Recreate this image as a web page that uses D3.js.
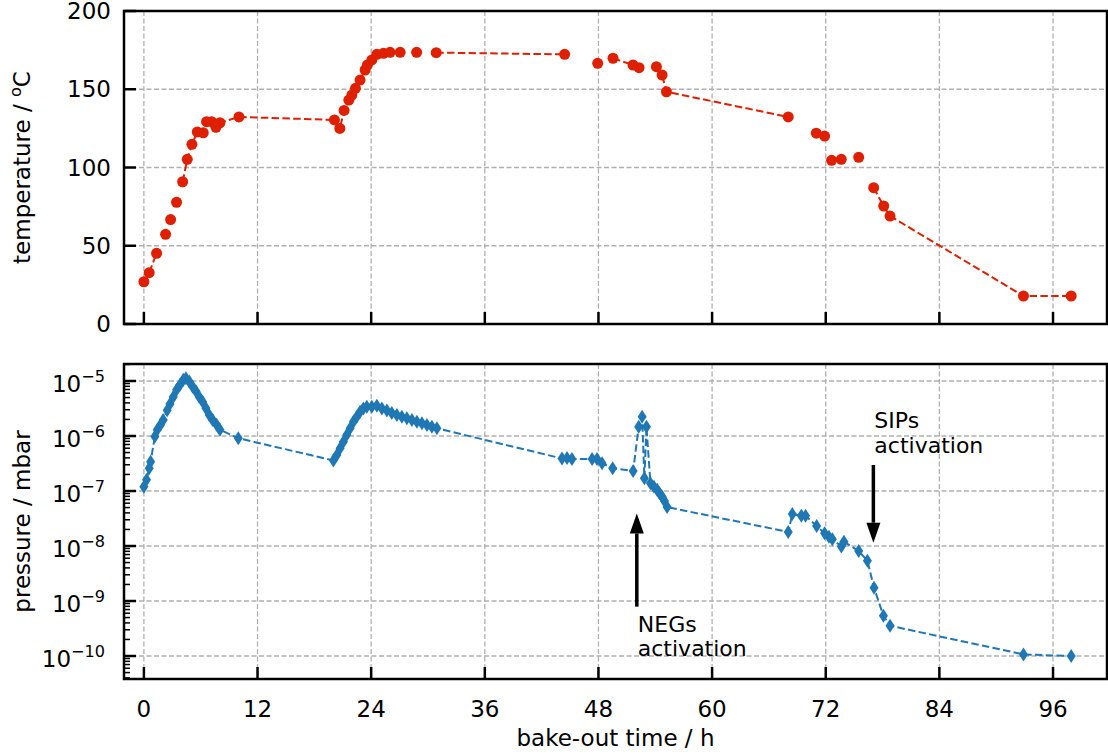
<!DOCTYPE html>
<html>
<head>
<meta charset="utf-8">
<script src="https://cdn.jsdelivr.net/npm/d3@7"></script>
<style>
  html, body { margin: 0; padding: 0; background: #fff; }
  text { font-family: "DejaVu Sans", sans-serif; fill: #000; }
</style>
</head>
<body>
<svg id="chart" width="1108" height="755"></svg>
<script>
// ---------------- data ----------------
// temperature readings (null = no reading -> gap in dashed line)
const tempTime  = [0, 0.56, 1.34, null, 2.29, null, 2.82, null, 3.45, null, 4.09, 4.58, 5.07, 5.64, 6.27, 6.62, 7.15, 7.61, 8.03, 10.04,
                   20.12, 20.69, 21.14, 21.64, 21.96, 22.34, 22.83, 23.36, 23.6, 24.07, 24.6, 25.3, 26.0, 27.06, null, 28.8, null,
                   30.87, 44.43, null, 47.92, null, 49.54, 51.65, 52.29, null, 54.12, 54.72, 55.18, 68.04, null, 71.0, 71.88, null,
                   72.62, 73.64, null, 75.48, null, 77.06, 78.12, 78.79, 92.88, 97.92];
const tempValue = [27, 32.8, 45.2, null, 57.3, null, 66.7, null, 77.8, null, 90.9, 105.2, 114.8, 122.7, 122.2, 129.3, 129.3, 125.7, 128.6, 132.3,
                   130.4, 125.0, 136.5, 143.1, 146.3, 150.6, 155.9, 162.3, 165.5, 168.7, 172.3, 173.0, 173.6, 173.6, null, 173.6, null,
                   173.4, 172.3, null, 166.6, null, 169.8, 165.5, 163.8, null, 164.4, 159.1, 148.4, 132.3, null, 121.9, 120.1, null,
                   104.6, 105.2, null, 106.5, null, 87.1, 75.4, 69.0, 17.9, 17.9];

// pressure readings (mbar)
const pressTime = [0, 0.28, 0.56, 0.71, 1.16, 1.41, 1.76, 2.04, 2.46, 2.75, 3.1, 3.45, 3.8, 4.16, 4.44, 4.79, 5.15, 5.5, 5.85, 6.2, 6.55, 6.9, 7.26, 7.68, 8.03, 9.97,
                   20.01, 20.37, 20.72, 21.07, 21.43, 21.78, 22.12, 22.48, 22.83, 23.18, 23.54, 24.07, 24.6, 25.13, 25.66, 26.18, 26.71, 27.24, 27.77, 28.3, 28.83, 29.36, 29.89, 30.41, 30.94,
                   44.15, 44.68, 45.2, 47.33, 47.85, 48.38, 49.5, 51.66, 52.25, 52.61, 52.85, 53.07, 53.49, 53.86, 54.2, 54.44, 54.73, 54.97, 55.25,
                   68.04, 68.47, 69.42, 69.87, 71.04, 71.88, 72.34, 72.7, 73.65, 73.92, 75.48, 76.4, 77.1, 78.09, 78.79, 92.88, 97.92];
const pressValue = [1.2e-7, 1.6e-7, 2.6e-7, 3.4e-7, 9.8e-7, 1.3e-6, 1.6e-6, 1.95e-6, 2.95e-6, 3.8e-6, 5.1e-6, 6.9e-6, 8.5e-6, 1.05e-5, 1.12e-5, 9.8e-6, 7.9e-6, 6.5e-6, 5.1e-6, 4.2e-6, 3.2e-6, 2.4e-6, 1.95e-6, 1.6e-6, 1.3e-6, 9.1e-7,
                   3.6e-7, 4.5e-7, 6.0e-7, 7.9e-7, 1.05e-6, 1.38e-6, 1.82e-6, 2.24e-6, 2.75e-6, 3.16e-6, 3.4e-6, 3.4e-6, 3.55e-6, 3.16e-6, 2.9e-6, 2.63e-6, 2.4e-6, 2.24e-6, 2.1e-6, 1.95e-6, 1.82e-6, 1.7e-6, 1.58e-6, 1.48e-6, 1.38e-6,
                   3.9e-7, 4.0e-7, 3.8e-7, 3.8e-7, 3.8e-7, 3.2e-7, 2.6e-7, 2.3e-7, 1.48e-6, 2.24e-6, 1.7e-7, 1.48e-6, 1.38e-7, 1.2e-7, 1.05e-7, 9.1e-8, 7.9e-8, 6.6e-8, 5.1e-8,
                   1.8e-8, 3.8e-8, 3.55e-8, 3.55e-8, 2.3e-8, 1.7e-8, 1.48e-8, 1.32e-8, 9.8e-9, 1.2e-8, 8.1e-9, 5.4e-9, 1.74e-9, 5.4e-10, 3.55e-10, 1.07e-10, 1.0e-10];

const xTicks = [0, 12, 24, 36, 48, 60, 72, 84, 96];
const tempTicks = [0, 50, 100, 150, 200];
const pressExponents = [-5, -6, -7, -8, -9, -10];

// annotations: label lines, time, tail pressure, tip pressure
const annLabels = [["NEGs", "activation"], ["SIPs", "activation"]];
const annTime   = [52.05, 77.03];
const annTail   = [7.9e-10, 2.97e-7];
const annTip    = [3.9e-8, 1.15e-8];

// ---------------- layout ----------------
const svg = d3.select("#chart");
const L = 124, R = 1107;
const top1 = 11, bot1 = 324, top2 = 364, bot2 = 679;
const red = "#de2000", blue = "#1f77b4";
const FS = 23, FA = 22;

const x = d3.scaleLinear().domain([-2.1, 101.7]).range([L, R]);
const yT = d3.scaleLinear().domain([0, 200]).range([bot1, top1]);
const yP = d3.scaleLog().domain([Math.pow(10, -10.418), Math.pow(10, -4.691)]).range([bot2, top2]);

function grid(g, yScale, yVals, t, b) {
  g.selectAll(".gx").data(xTicks).join("line")
    .attr("x1", d => x(d)).attr("x2", d => x(d)).attr("y1", t).attr("y2", b)
    .attr("stroke", "#b0b0b0").attr("stroke-width", 1.3).attr("stroke-dasharray", "5,2.5");
  g.selectAll(".gy").data(yVals).join("line")
    .attr("x1", L).attr("x2", R).attr("y1", d => yScale(d)).attr("y2", d => yScale(d))
    .attr("stroke", "#b0b0b0").attr("stroke-width", 1.3).attr("stroke-dasharray", "5,2.5");
}

// ---- top panel ----
const gT = svg.append("g");
grid(gT.append("g"), yT, tempTicks, top1, bot1);
const tData = tempTime.map((t, i) => ({t, v: tempValue[i]}));
gT.append("path").datum(tData)
  .attr("d", d3.line().defined(d => d.t !== null && d.v !== null).x(d => x(d.t)).y(d => yT(d.v)))
  .attr("fill", "none").attr("stroke", red).attr("stroke-width", 2).attr("stroke-dasharray", "7.5,3.3");
gT.selectAll("circle").data(tData.filter(d => d.t !== null)).join("circle")
  .attr("cx", d => x(d.t)).attr("cy", d => yT(d.v)).attr("r", 5.5).attr("fill", red);

// ---- bottom panel ----
const gB = svg.append("g");
grid(gB.append("g"), yP, pressExponents.map(e => Math.pow(10, e)), top2, bot2);
const pData = pressTime.map((t, i) => ({t, v: pressValue[i]}));
gB.append("path").datum(pData)
  .attr("d", d3.line().x(d => x(d.t)).y(d => yP(d.v)))
  .attr("fill", "none").attr("stroke", blue).attr("stroke-width", 2).attr("stroke-dasharray", "7.5,3.3");
const dh = 7, dw = 4.5;
gB.selectAll(".dm").data(pData).join("path")
  .attr("d", d => `M${x(d.t)},${yP(d.v) - dh}L${x(d.t) + dw},${yP(d.v)}L${x(d.t)},${yP(d.v) + dh}L${x(d.t) - dw},${yP(d.v)}Z`)
  .attr("fill", blue);

// ---- frames & ticks ----
function frame(t, b) {
  svg.append("rect").attr("x", L).attr("y", t).attr("width", R - L).attr("height", b - t)
    .attr("fill", "none").attr("stroke", "#000").attr("stroke-width", 2.5);
  svg.selectAll(null).data(xTicks).join("line")
    .attr("x1", d => x(d)).attr("x2", d => x(d)).attr("y1", b).attr("y2", b - 12)
    .attr("stroke", "#000").attr("stroke-width", 2.5);
}
frame(top1, bot1);
frame(top2, bot2);

// top y ticks
svg.selectAll(null).data(tempTicks).join("line")
  .attr("x1", L).attr("x2", L + 12).attr("y1", d => yT(d)).attr("y2", d => yT(d))
  .attr("stroke", "#000").attr("stroke-width", 2.5);
svg.selectAll(null).data(tempTicks).join("text")
  .attr("x", 111).attr("y", d => yT(d) + 8).attr("text-anchor", "end").attr("font-size", FS)
  .text(d => d);

// bottom y ticks (major + minor)
const minors = [];
for (let e = -11; e <= -5; e++) for (let m = 2; m <= 9; m++) {
  const v = m * Math.pow(10, e);
  if (yP(v) >= top2 && yP(v) <= bot2) minors.push(v);
}
svg.selectAll(null).data(minors).join("line")
  .attr("x1", L).attr("x2", L + 6).attr("y1", d => yP(d)).attr("y2", d => yP(d))
  .attr("stroke", "#000").attr("stroke-width", 1.5);
svg.selectAll(null).data(pressExponents).join("line")
  .attr("x1", L).attr("x2", L + 12).attr("y1", d => yP(Math.pow(10, d))).attr("y2", d => yP(Math.pow(10, d)))
  .attr("stroke", "#000").attr("stroke-width", 2.5);
const pl = svg.selectAll(null).data(pressExponents).join("text")
  .attr("x", 105).attr("y", d => yP(Math.pow(10, d)) + 11).attr("text-anchor", "end").attr("font-size", FS);
pl.append("tspan").text("10");
pl.append("tspan").attr("dy", -10).attr("font-size", FS * 0.7).text(d => "\u2212" + Math.abs(d));

// x tick labels
svg.selectAll(null).data(xTicks).join("text")
  .attr("x", d => x(d)).attr("y", 717).attr("text-anchor", "middle").attr("font-size", FS)
  .text(d => d);

// axis labels
svg.append("text").attr("x", (L + R) / 2).attr("y", 746).attr("text-anchor", "middle").attr("font-size", FS)
  .text("bake-out time / h");
const tl = svg.append("text").attr("transform", `translate(30,${(top1 + bot1) / 2}) rotate(-90)`)
  .attr("text-anchor", "middle").attr("font-size", FS);
tl.append("tspan").text("temperature / ");
tl.append("tspan").attr("dy", -9).attr("font-size", FS * 0.7).text("o");
tl.append("tspan").attr("dy", 9).text("C");
svg.append("text").attr("transform", `translate(30,${(top2 + bot2) / 2}) rotate(-90)`)
  .attr("text-anchor", "middle").attr("font-size", FS).text("pressure / mbar");

// ---- annotations ----
annLabels.forEach((lines, i) => {
  const ax = x(annTime[i]);
  const yTail = yP(annTail[i]), yTip = yP(annTip[i]);
  const dir = yTip < yTail ? -1 : 1;
  const headLen = 20, headW = 7;
  const yBase = yTip - dir * headLen;
  svg.append("line").attr("x1", ax).attr("x2", ax).attr("y1", yTail).attr("y2", yBase)
    .attr("stroke", "#000").attr("stroke-width", 3.5);
  svg.append("path").attr("d", `M${ax},${yTip}L${ax - headW},${yBase}L${ax + headW},${yBase}Z`).attr("fill", "#000");
  const t = svg.append("text").attr("font-size", FA);
  if (dir < 0) {
    lines.forEach((s, k) => t.append("tspan").attr("x", ax + 1).attr("y", yTail + 25 + k * 24).text(s));
  } else {
    lines.forEach((s, k) => t.append("tspan").attr("x", ax + 1).attr("y", yTail - 37 + k * 25).text(s));
  }
});
</script>
</body>
</html>
